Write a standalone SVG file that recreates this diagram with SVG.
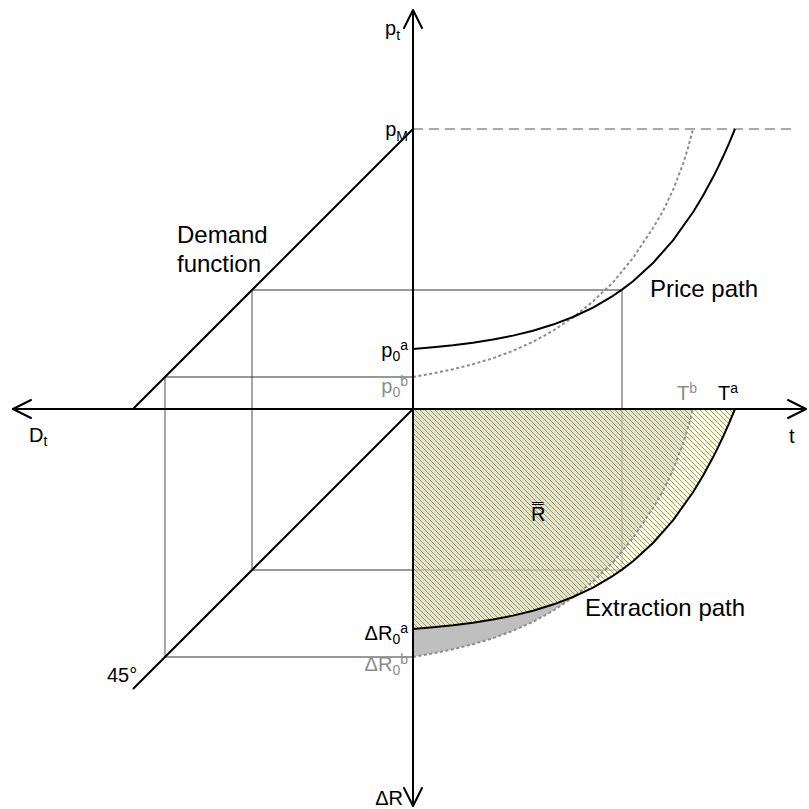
<svg xmlns="http://www.w3.org/2000/svg" width="809" height="809" viewBox="0 0 809 809">
<style>
text{font-family:"Liberation Sans",Arial,sans-serif;fill:#000}
.lbl{font-size:20px}
.big{font-size:24px}
.gray{fill:#8c8c8c}
.sub{font-size:14px}
.axis{stroke:#000;stroke-width:2;fill:none}
.arrow{stroke:#000;stroke-width:2;fill:none;stroke-linecap:round;stroke-linejoin:round}
.diag{stroke:#000;stroke-width:2;fill:none}
.hgrid{stroke:#333;stroke-width:1;fill:none}
.vgrid{stroke:#777;stroke-width:1.3;fill:none}
.curveA{stroke:#000;stroke-width:2;fill:none;stroke-linejoin:round}
.curveB{stroke:#8c8c8c;stroke-width:2;fill:none;stroke-dasharray:3,2.5;stroke-linejoin:round}
</style>
<defs>
<pattern id="hatch" patternUnits="userSpaceOnUse" width="5" height="5">
<path d="M0,0 L5,5 M-1,4 L1,6 M4,-1 L6,1" stroke="#8f8f80" stroke-width="0.9"/>
</pattern>
</defs>

<g id="guides">
<polyline class="hgrid" points="252,290 622,290"/>
<polyline class="vgrid" points="252,290 252,570"/>
<polyline class="vgrid" points="622,290 622,570"/>
<polyline class="hgrid" points="252,570 622,570"/>
<polyline class="hgrid" points="165,377 413,377"/>
<polyline class="vgrid" points="165,377 165,657"/>
<polyline class="hgrid" points="165,657 413,657"/>
<line x1="413" y1="129" x2="795" y2="129" stroke="#555" stroke-width="1.2" stroke-dasharray="10,6"/>
</g>

<g id="fills">
<path id="regionB" d="M413,409 L693,409 L688,428 L683,444 L673,470 L663,491 L653,508 L633,538 L613,562.4 L593,581.4 L573,597.4 L553,610.8 L533,621.8 L513,630.8 L493,638.2 L473,644.2 L453,649.2 L433,653.4 L413,657 Z" fill="#000" fill-opacity="0.25"/>
<path id="regionA" d="M413,409 L735,409 L729,423.34 L723,436.79 L718,447.34 L713,457.34 L703,475.76 L693,492.29 L673,520.38 L653,542.99 L633,561.17 L622,569.6 L613,575.78 L593,587.53 L573,596.98 L553,604.58 L533,610.69 L513,615.61 L493,619.56 L473,622.74 L453,625.29 L433,627.35 L413,629 Z" fill="#ffffcc" fill-opacity="0.6"/>
<path d="M413,409 L735,409 L729,423.34 L723,436.79 L718,447.34 L713,457.34 L703,475.76 L693,492.29 L673,520.38 L653,542.99 L633,561.17 L622,569.6 L613,575.78 L593,587.53 L573,596.98 L553,604.58 L533,610.69 L513,615.61 L493,619.56 L473,622.74 L453,625.29 L433,627.35 L413,629 Z" fill="url(#hatch)"/>
</g>

<g id="curves">
<polyline id="priceB" class="curveB" points="413,377 433,373.4 453,369.2 473,364.2 493,358.2 513,350.8 533,341.8 553,330.8 573,317.4 593,301.4 613,282.4 633,258 653,228 663,211 673,190 683,164 688,148 693,129"/>
<polyline id="priceA" class="curveA" points="413,349 433,347.35 453,345.29 473,342.74 493,339.56 513,335.61 533,330.69 553,324.58 573,316.98 593,307.53 613,295.78 622,289.6 633,281.17 653,262.99 673,240.38 693,212.29 703,195.76 713,177.34 718,167.34 723,156.79 729,143.34 735,129"/>
<polyline id="extractB" class="curveB" points="413,657 433,653.4 453,649.2 473,644.2 493,638.2 513,630.8 533,621.8 553,610.8 573,597.4 593,581.4 613,562.4 633,538 653,508 663,491 673,470 683,444 688,428 693,409"/>
<polyline id="extractA" class="curveA" points="413,629 433,627.35 453,625.29 473,622.74 493,619.56 513,615.61 533,610.69 553,604.58 573,596.98 593,587.53 613,575.78 622,569.6 633,561.17 653,542.99 673,520.38 693,492.29 703,475.76 713,457.34 718,447.34 723,436.79 729,423.34 735,409"/>
</g>

<g id="connectors">
<line class="diag" x1="133" y1="409" x2="413" y2="129"/>
<line class="diag" x1="413" y1="409" x2="133" y2="689"/>
<line class="axis" x1="413" y1="10" x2="413" y2="806"/>
<line class="axis" x1="12" y1="409" x2="806" y2="409"/>
<polyline class="arrow" points="404,28 413,10 422,28"/>
<polyline class="arrow" points="404,788 413,806 422,788"/>
<polyline class="arrow" points="31,400 13,409 31,418"/>
<polyline class="arrow" points="788,400 806,409 788,418"/>
</g>

<g id="labels">
<text class="lbl" x="385" y="35">p<tspan class="sub" dy="5">t</tspan></text>
<text class="lbl" x="408" y="136" text-anchor="end">p<tspan class="sub" dy="5">M</tspan></text>
<text class="big" x="177" y="243">Demand</text>
<text class="big" x="177" y="272">function</text>
<text class="big" x="650" y="297">Price path</text>
<text class="lbl" x="408" y="357" text-anchor="end">p<tspan class="sub" dy="4">0</tspan><tspan class="sub" dy="-11">a</tspan></text>
<text class="lbl gray" x="408" y="393" text-anchor="end">p<tspan class="sub" dy="4">0</tspan><tspan class="sub" dy="-11">b</tspan></text>
<text class="lbl gray" x="677" y="400">T<tspan class="sub" dy="-7">b</tspan></text>
<text class="lbl" x="718" y="400">T<tspan class="sub" dy="-7">a</tspan></text>
<text class="lbl" x="789" y="443">t</text>
<text class="lbl" x="29" y="442">D<tspan class="sub" dy="4">t</tspan></text>
<text class="lbl" x="531" y="521">R̿</text>
<text class="big" x="585" y="616">Extraction path</text>
<text class="lbl" x="408" y="640" text-anchor="end">ΔR<tspan class="sub" dy="4">0</tspan><tspan class="sub" dy="-11">a</tspan></text>
<text class="lbl gray" x="408" y="671" text-anchor="end">ΔR<tspan class="sub" dy="4">0</tspan><tspan class="sub" dy="-11">b</tspan></text>
<text class="lbl" x="107" y="682">45°</text>
<text class="lbl" x="403" y="805" text-anchor="end">ΔR</text>
</g>
</svg>
